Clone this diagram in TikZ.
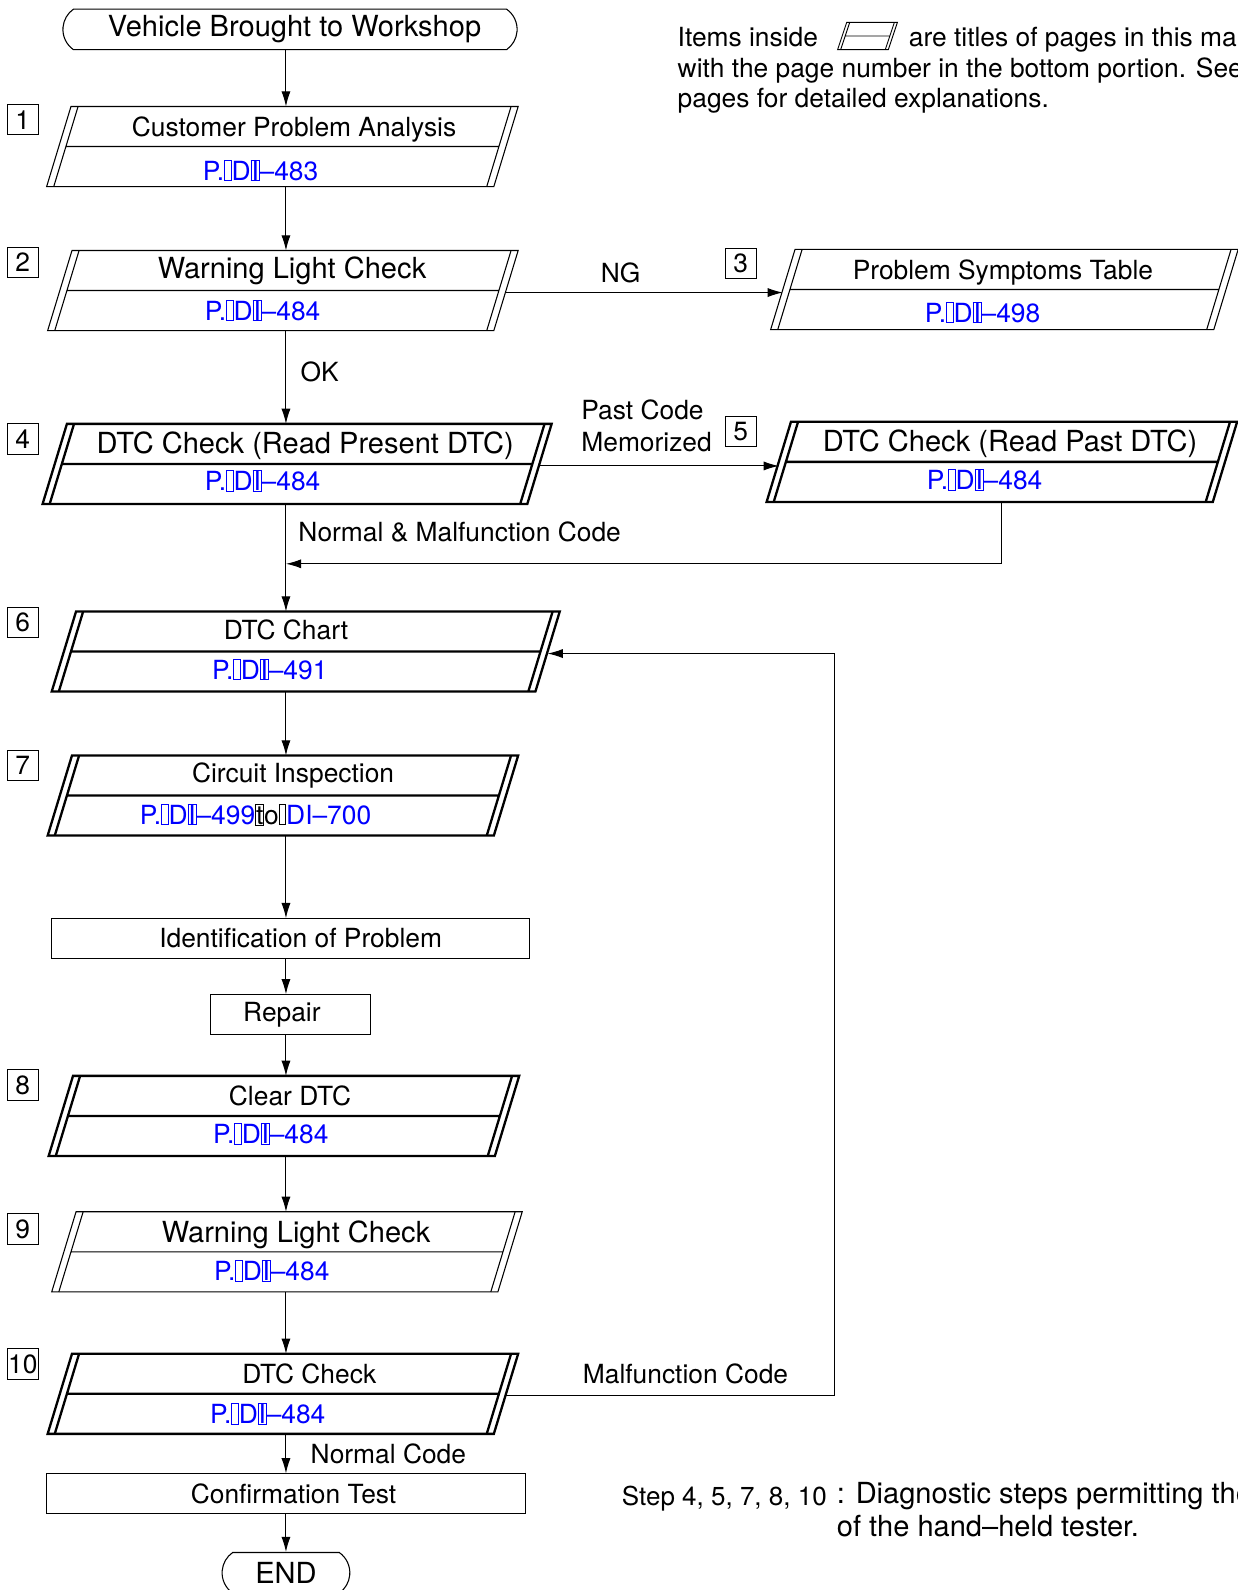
\documentclass[tikz,border=0pt]{standalone}
\usepackage{fontspec}
\setmainfont{TeX Gyre Heros}
\usetikzlibrary{arrows.meta,shapes.misc}

\newcommand\nog[1]{{\fboxsep=0pt\fboxrule=0.45pt\fbox{\rule{0pt}{0.75em}#1}}}
\newcommand\pgref[1]{\textcolor{blue}{P.\nog{\hspace{.22em}}D\nog{I}--#1}}

\begin{document}
\begin{tikzpicture}[x=0.02cm,y=-0.02cm,
  txt/.style={inner sep=0pt,font=\fontsize{14.8}{17}\selectfont},
  lrg/.style={inner sep=0pt,font=\fontsize{16.3}{19}\selectfont},
  numbox/.style={draw,line width=0.6pt,minimum width=0.62cm,minimum height=0.6cm,inner sep=0pt,font=\fontsize{14.8}{17}\selectfont},
  endbox/.style={draw,line width=0.6pt,rounded rectangle,rounded rectangle arc length=110,minimum height=0.8cm,inner sep=0pt,font=\fontsize{16.3}{19}\selectfont},
  rbox/.style={draw,line width=0.6pt,minimum height=0.78cm,inner sep=0pt,font=\fontsize{14.8}{17}\selectfont},
  arr/.style={line width=0.6pt,-{Latex[length=3mm,width=1.8mm]}}]
  \useasboundingbox (0,0) rectangle (1220,1568);
  \coordinate (ax) at (282,0);
  \coordinate (lp) at (823,0);
  \coordinate (mrg) at (282,556);

  % legend
  \node[txt,anchor=base west] (leg1) at (668,46) {Items inside};
  \draw[line width=0.5pt] (826,49) -- (835,22) -- (885,22) -- (876,49) -- cycle
    (829,49) -- (838,22) (873,49) -- (882,22) (833.5,35.5) -- (877.5,35.5);
  \node[txt,anchor=base west] (leg2) at (896,46) {are titles of pages in this manual,};
  \node[txt,anchor=base west] (leg3) at (668,76) {with the page number in the bottom portion. See the};
  \node[txt,anchor=base west] (leg4) at (668,106) {pages for detailed explanations.};

  % page boxes
  \foreach \n/\xl/\yt/\bw/\lw in {1/46/105/441/0.6pt, 2/47/247/440/0.6pt,
      3/760/246/437/0.6pt, 4/42/418/478/1.3pt, 5/756/416/440/1.3pt,
      6/51/603/477/1.3pt, 7/47/745/440/1.3pt, 8/48/1061/440/1.3pt,
      9/51/1195/440/0.6pt, 10/47/1335/440/1.3pt}{
    \draw[line width=\lw] (\xl,\yt+79) -- (\xl+24,\yt) -- (\xl+24+\bw,\yt) -- (\xl+\bw,\yt+79) -- cycle;
    \draw[line width=\lw] (\xl+7,\yt+79) -- (\xl+31,\yt) (\xl+\bw-7,\yt+79) -- (\xl+\bw+17,\yt)
      (\xl+19,\yt+39.5) -- (\xl+\bw+5,\yt+39.5);
    \coordinate (top\n) at (\xl+12+\bw/2,\yt);
    \coordinate (bot\n) at (\xl+12+\bw/2,\yt+79);
    \coordinate (lft\n) at (\xl+12,\yt+41.5);
    \coordinate (rgt\n) at (\xl+12+\bw,\yt+41.5);
  }

  \node[endbox,minimum width=8.96cm] (start) at (286,29) {\hspace*{0.18cm}Vehicle Brought to Workshop};

  \node[numbox] (n1) at (22.5,118) {1};
  \node[txt,anchor=base] (ttl1) at (290,135) {Customer Problem Analysis};
  \node[txt,anchor=base] (pg1) at (257,178) {\pgref{483}};

  \node[numbox] (n2) at (22.5,259) {2};
  \node[lrg,anchor=base] (ttl2) at (288,275) {Warning Light Check};
  \node[txt,anchor=base] (pg2) at (259,316) {\pgref{484}};

  \node[numbox] (n3) at (730.5,260) {3};
  \node[txt,anchor=base] (ttl3) at (989,276) {Problem Symptoms Table};
  \node[txt,anchor=base] (pg3) at (969,318) {\pgref{498}};

  \node[numbox] (n4) at (22.5,433) {4};
  \node[lrg,anchor=base] (ttl4) at (301,447) {DTC Check (Read Present DTC)};
  \node[txt,anchor=base] (pg4) at (259,484) {\pgref{484}};

  \node[numbox] (n5) at (730.5,425.5) {5};
  \node[lrg,anchor=base] (ttl5) at (996,445) {DTC Check (Read Past DTC)};
  \node[txt,anchor=base] (pg5) at (971,483) {\pgref{484}};

  \node[numbox] (n6) at (22.5,614) {6};
  \node[txt,anchor=base] (ttl6) at (282,631) {DTC Chart};
  \node[txt,anchor=base] (pg6) at (266,670) {\pgref{491}};

  \node[numbox] (n7) at (22.5,755) {7};
  \node[txt,anchor=base] (ttl7) at (289,772) {Circuit Inspection};
  \node[txt,anchor=base] (pg7) at (252,813) {\textcolor{blue}{P.\nog{\hspace{.22em}}D\nog{I}--499}\nog{t}o\nog{\hspace{.22em}}\textcolor{blue}{DI--700}};

  \node[rbox,minimum width=9.42cm] (ident) at (286.5,925.5) {\hspace*{0.4cm}Identification of Problem};
  \node[rbox,minimum width=3.14cm] (repair) at (286.5,1000.5) {Repair\hspace*{0.34cm}};

  \node[numbox] (n8) at (22.5,1070) {8};
  \node[txt,anchor=base] (ttl8) at (286,1090) {Clear DTC};
  \node[txt,anchor=base] (pg8) at (267,1128) {\pgref{484}};

  \node[numbox] (n9) at (22.5,1212) {9};
  \node[lrg,anchor=base] (ttl9) at (292,1225) {Warning Light Check};
  \node[txt,anchor=base] (pg9) at (268,1263) {\pgref{484}};

  \node[numbox] (n10) at (22.5,1345) {10};
  \node[txt,anchor=base] (ttl10) at (305,1364) {DTC Check};
  \node[txt,anchor=base] (pg10) at (264,1404) {\pgref{484}};

  \node[rbox,minimum width=9.44cm] (confirm) at (282,1473) {\hspace*{0.3cm}Confirmation Test};
  \node[endbox,minimum width=2.52cm] (fin) at (282,1551) {END};

  % connectors
  \draw[arr] (start.south -| ax) -- (top1 -| ax);
  \draw[arr] (bot1 -| ax) -- (top2 -| ax);
  \draw[arr] (rgt2) -- (lft3 |- rgt2);
  \draw[arr] (bot2 -| ax) -- (top4 -| ax);
  \draw[arr] (rgt4) -- (lft5 |- rgt4);
  \draw[arr] (bot5) -- (bot5 |- mrg) -- (mrg);
  \draw[arr] (bot4 -| ax) -- (top6 -| ax);
  \draw[arr] (bot6 -| ax) -- (top7 -| ax);
  \draw[arr] (bot7 -| ax) -- (ident.north -| ax);
  \draw[arr] (ident.south -| ax) -- (repair.north -| ax);
  \draw[arr] (repair.south -| ax) -- (top8 -| ax);
  \draw[arr] (bot8 -| ax) -- (top9 -| ax);
  \draw[arr] (bot9 -| ax) -- (top10 -| ax);
  \draw[arr] (rgt10) -- (rgt10 -| lp) -- (rgt6 -| lp) -- (rgt6);
  \draw[arr] (bot10 -| ax) -- (confirm.north -| ax);
  \draw[arr] (confirm.south -| ax) -- (fin.north -| ax);

  % labels
  \node[txt,anchor=base] (ng) at (612,279) {NG};
  \node[txt,anchor=base west] (ok) at (296,376) {OK};
  \node[txt,anchor=base west] (past1) at (573,414) {Past Code};
  \node[txt,anchor=base west] (past2) at (573,445) {Memorized};
  \node[txt,anchor=base west] (nmc) at (294,534) {Normal \& Malfunction Code};
  \node[txt,anchor=base] (mfc) at (676,1364) {Malfunction Code};
  \node[txt,anchor=base] (nc) at (383,1443) {Normal Code};

  \node[inner sep=0pt,font=\fontsize{14.6}{17}\selectfont,anchor=base west] (step) at (613,1485) {Step 4, 5, 7, 8, 10};
  \node[lrg,anchor=base west] (diag1) at (825,1483) {: Diagnostic steps permitting the use};
  \node[lrg,anchor=base west] (diag2) at (825,1515) {of the hand--held tester.};
\end{tikzpicture}
\end{document}
